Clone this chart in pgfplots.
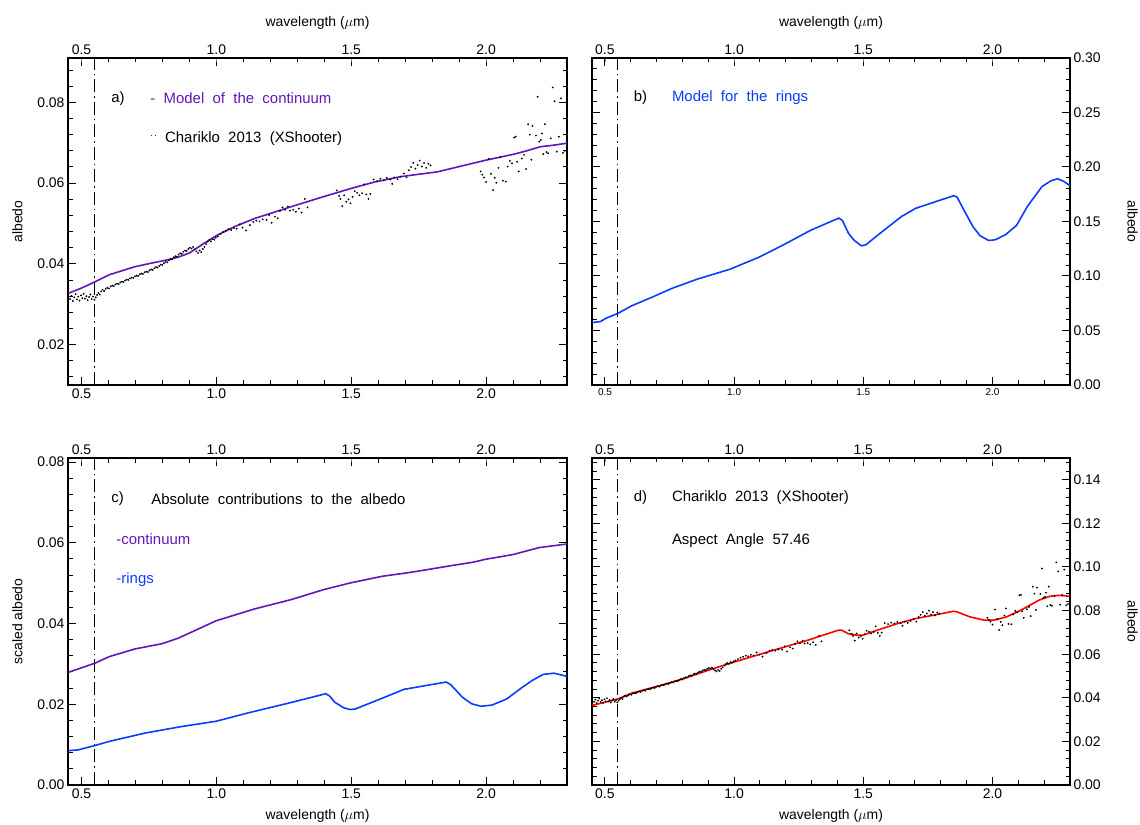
\documentclass[border=0pt]{standalone}
\usepackage{fontspec}
\setmainfont{Liberation Sans}
\newfontfamily\annfont{Liberation Sans}[WordSpace=2]
\usepackage{pgfplots}
\pgfplotsset{compat=1.18}

\definecolor{contpurple}{RGB}{100,20,190}
\definecolor{ringblue}{RGB}{10,60,255}
\definecolor{modelred}{RGB}{255,0,0}

\newcommand{\fsz}{\fontsize{14}{16}\selectfont}
\newcommand{\afsz}{\annfont\fontsize{15}{17}\selectfont}

\pgfplotsset{
  xfmt/.style={xticklabel style={/pgf/number format/fixed, /pgf/number format/fixed zerofill, /pgf/number format/precision=1}},
  yfmt/.style={yticklabel style={/pgf/number format/fixed, /pgf/number format/fixed zerofill, /pgf/number format/precision=2}},
  idl/.style={
    scale only axis, height=327bp, anchor=south west,
    xmin=0.45, xmax=2.30,
    xtick={0.5,1.0,1.5,2.0},
    minor xtick={0.6,0.7,0.8,0.9,1.1,1.2,1.3,1.4,1.6,1.7,1.8,1.9,2.1,2.2,2.3},
    axis line style={line width=1.1bp},
    scaled y ticks=false, scaled x ticks=false,
    xfmt, yfmt,
  },
  topx/.style={
    scale only axis, height=327bp, anchor=south west,
    xmin=0.45, xmax=2.30, ymin=0, ymax=1,
    axis x line*=top, hide y axis,
    xtick={0.5,1.0,1.5,2.0}, minor xtick={},
    axis line style={line width=1.1bp},
    scaled x ticks=false,
    /pgf/number format/assume math mode=true,
    xfmt,
    font=\fsz, xlabel shift=8bp,
  },
  vline/.style={black, line width=1bp, dash pattern=on 13bp off 4bp on 1.5bp off 4bp},
}
\tikzset{ann/.style={anchor=west, font=\afsz}}

% Chariklo 2013 XShooter spectrum (albedo), panel a
\pgfplotstableread{
x y
0.458 0.0313
0.463 0.0321
0.468 0.0308
0.473 0.0317
0.478 0.0325
0.483 0.0312
0.488 0.0319
0.493 0.0309
0.498 0.0322
0.503 0.0315
0.508 0.0326
0.513 0.0314
0.518 0.0320
0.523 0.0310
0.528 0.0318
0.533 0.0324
0.538 0.0313
0.543 0.0319
0.548 0.0311
0.553 0.0317
0.558 0.0323
0.563 0.0328
0.568 0.0324
0.573 0.0332
0.578 0.0336
0.584 0.0333
0.590 0.0338
0.596 0.0341
0.602 0.0339
0.608 0.0344
0.614 0.0346
0.620 0.0345
0.626 0.0349
0.632 0.0351
0.638 0.0350
0.644 0.0354
0.650 0.0356
0.656 0.0355
0.662 0.0359
0.668 0.0361
0.674 0.0360
0.680 0.0364
0.686 0.0366
0.692 0.0365
0.698 0.0369
0.704 0.0371
0.710 0.0370
0.716 0.0374
0.722 0.0376
0.728 0.0375
0.734 0.0379
0.740 0.0381
0.746 0.0380
0.752 0.0384
0.758 0.0386
0.764 0.0385
0.770 0.0389
0.776 0.0392
0.782 0.0391
0.788 0.0395
0.794 0.0398
0.800 0.0397
0.806 0.0402
0.812 0.0405
0.818 0.0404
0.824 0.0409
0.830 0.0412
0.836 0.0411
0.842 0.0416
0.848 0.0419
0.854 0.0418
0.860 0.0423
0.866 0.0426
0.872 0.0425
0.878 0.0430
0.884 0.0433
0.890 0.0432
0.896 0.0437
0.902 0.0440
0.908 0.0438
0.914 0.0442
0.920 0.0436
0.926 0.0431
0.932 0.0427
0.938 0.0433
0.944 0.0429
0.950 0.0437
0.956 0.0442
0.962 0.0449
0.968 0.0455
0.974 0.0459
0.980 0.0456
0.986 0.0462
0.992 0.0460
0.998 0.0465
1.005 0.0468
1.015 0.0474
1.025 0.0479
1.035 0.0482
1.045 0.0486
1.055 0.0484
1.065 0.0489
1.075 0.0487
1.087 0.0498
1.097 0.0490
1.110 0.0483
1.125 0.0496
1.137 0.0504
1.148 0.0507
1.160 0.0505
1.172 0.0510
1.186 0.0509
1.196 0.0521
1.205 0.0502
1.217 0.0517
1.227 0.0513
1.236 0.0531
1.245 0.0540
1.255 0.0534
1.265 0.0542
1.273 0.0532
1.285 0.0534
1.295 0.0529
1.306 0.0537
1.316 0.0527
1.328 0.0561
1.338 0.0540
1.446 0.0582
1.455 0.0568
1.460 0.0561
1.467 0.0543
1.474 0.0570
1.482 0.0554
1.490 0.0560
1.497 0.0550
1.505 0.0566
1.513 0.0580
1.522 0.0576
1.530 0.0570
1.540 0.0575
1.548 0.0597
1.556 0.0572
1.564 0.0561
1.571 0.0573
1.583 0.0609
1.596 0.0605
1.608 0.0611
1.620 0.0607
1.632 0.0613
1.645 0.0609
1.652 0.0598
1.660 0.0614
1.672 0.0610
1.683 0.0616
1.695 0.0624
1.705 0.0614
1.714 0.0632
1.722 0.0640
1.730 0.0650
1.738 0.0636
1.746 0.0645
1.754 0.0656
1.762 0.0641
1.770 0.0650
1.778 0.0638
1.786 0.0648
1.794 0.0644
1.980 0.0629
1.986 0.0621
1.992 0.0614
2.000 0.0603
2.010 0.0660
2.018 0.0623
2.026 0.0583
2.032 0.0613
2.038 0.0601
2.046 0.0638
2.052 0.0664
2.062 0.0606
2.073 0.0604
2.080 0.0641
2.088 0.0655
2.096 0.0649
2.104 0.0713
2.110 0.0715
2.115 0.0653
2.121 0.0629
2.133 0.0661
2.141 0.0670
2.148 0.0635
2.156 0.0746
2.162 0.0720
2.168 0.0658
2.172 0.0742
2.185 0.0718
2.191 0.0814
2.197 0.0703
2.203 0.0707
2.207 0.0723
2.212 0.0672
2.218 0.0746
2.224 0.0677
2.230 0.0674
2.240 0.0711
2.247 0.0837
2.254 0.0803
2.262 0.0678
2.270 0.0715
2.278 0.0810
2.285 0.0675
2.292 0.0680
2.298 0.0900
}\specA

% same spectrum at aspect angle 57.46, panel d
\pgfplotstableread{
x y
0.458 0.0382
0.463 0.0392
0.468 0.0376
0.473 0.0387
0.478 0.0397
0.483 0.0381
0.488 0.0389
0.493 0.0377
0.498 0.0393
0.503 0.0384
0.508 0.0398
0.513 0.0383
0.518 0.0390
0.523 0.0378
0.528 0.0388
0.533 0.0395
0.538 0.0382
0.543 0.0389
0.548 0.0379
0.553 0.0387
0.558 0.0394
0.563 0.0400
0.568 0.0395
0.573 0.0405
0.578 0.0410
0.584 0.0406
0.590 0.0412
0.596 0.0416
0.602 0.0414
0.608 0.0420
0.614 0.0422
0.620 0.0421
0.626 0.0426
0.632 0.0428
0.638 0.0427
0.644 0.0432
0.650 0.0434
0.656 0.0433
0.662 0.0438
0.668 0.0440
0.674 0.0439
0.680 0.0444
0.686 0.0447
0.692 0.0445
0.698 0.0450
0.704 0.0453
0.710 0.0451
0.716 0.0456
0.722 0.0459
0.728 0.0458
0.734 0.0462
0.740 0.0465
0.746 0.0464
0.752 0.0468
0.758 0.0471
0.764 0.0470
0.770 0.0475
0.776 0.0478
0.782 0.0477
0.788 0.0482
0.794 0.0486
0.800 0.0484
0.806 0.0490
0.812 0.0494
0.818 0.0493
0.824 0.0499
0.830 0.0503
0.836 0.0501
0.842 0.0508
0.848 0.0511
0.854 0.0510
0.860 0.0516
0.866 0.0520
0.872 0.0519
0.878 0.0525
0.884 0.0528
0.890 0.0527
0.896 0.0533
0.902 0.0537
0.908 0.0534
0.914 0.0539
0.920 0.0532
0.926 0.0526
0.932 0.0521
0.938 0.0528
0.944 0.0523
0.950 0.0533
0.956 0.0539
0.962 0.0548
0.968 0.0555
0.974 0.0560
0.980 0.0556
0.986 0.0564
0.992 0.0561
0.998 0.0567
1.005 0.0571
1.015 0.0578
1.025 0.0584
1.035 0.0588
1.045 0.0593
1.055 0.0590
1.065 0.0597
1.075 0.0594
1.087 0.0608
1.097 0.0598
1.110 0.0589
1.125 0.0605
1.137 0.0615
1.148 0.0619
1.160 0.0616
1.172 0.0622
1.186 0.0621
1.196 0.0636
1.205 0.0612
1.217 0.0631
1.227 0.0626
1.236 0.0648
1.245 0.0659
1.255 0.0651
1.265 0.0661
1.273 0.0649
1.285 0.0651
1.295 0.0645
1.306 0.0655
1.316 0.0643
1.328 0.0684
1.338 0.0659
1.446 0.0710
1.455 0.0693
1.460 0.0684
1.467 0.0662
1.474 0.0695
1.482 0.0676
1.490 0.0683
1.497 0.0671
1.505 0.0691
1.513 0.0708
1.522 0.0703
1.530 0.0695
1.540 0.0702
1.548 0.0728
1.556 0.0698
1.564 0.0684
1.571 0.0699
1.583 0.0743
1.596 0.0738
1.608 0.0745
1.620 0.0741
1.632 0.0748
1.645 0.0743
1.652 0.0730
1.660 0.0749
1.672 0.0744
1.683 0.0752
1.695 0.0761
1.705 0.0749
1.714 0.0771
1.722 0.0781
1.730 0.0793
1.738 0.0776
1.746 0.0787
1.754 0.0800
1.762 0.0782
1.770 0.0793
1.778 0.0778
1.786 0.0791
1.794 0.0786
1.980 0.0767
1.986 0.0758
1.992 0.0749
2.000 0.0736
2.010 0.0805
2.018 0.0760
2.026 0.0711
2.032 0.0748
2.038 0.0733
2.046 0.0778
2.052 0.0810
2.062 0.0739
2.073 0.0737
2.080 0.0782
2.088 0.0799
2.096 0.0792
2.104 0.0870
2.110 0.0872
2.115 0.0797
2.121 0.0767
2.133 0.0806
2.141 0.0817
2.148 0.0775
2.156 0.0910
2.162 0.0878
2.168 0.0803
2.172 0.0905
2.185 0.0876
2.191 0.0993
2.197 0.0858
2.203 0.0863
2.207 0.0882
2.212 0.0820
2.218 0.0910
2.224 0.0826
2.230 0.0822
2.240 0.0867
2.247 0.1021
2.254 0.0980
2.262 0.0827
2.270 0.0872
2.278 0.0988
2.285 0.0824
2.292 0.0830
2.298 0.1098
}\specD

\begin{document}
\begin{tikzpicture}
\path[use as bounding box] (0,0) rectangle (1140bp,825bp);

% ---------- a) ----------
\begin{axis}[idl, at={(68bp,440bp)}, width=499bp,
  font=\fsz, /pgf/number format/assume math mode=true,
  xmajorticks=true, ymajorticks=true, xminorticks=true, yminorticks=true,
  tick style={black, line width=1bp}, major tick length=8bp, minor tick length=4.5bp,
  ymin=0.01, ymax=0.091,
  ytick={0.02,0.04,0.06,0.08},
  minor ytick={0.012,0.016,0.024,0.028,0.032,0.036,0.044,0.048,0.052,0.056,0.064,0.068,0.072,0.076,0.084,0.088},
  ylabel={albedo}, ylabel shift=8bp]
\addplot[vline] coordinates {(0.55,0.01) (0.55,0.091)};
\addplot[only marks, mark=*, mark size=0.7bp, black] table {\specA};
\addplot[contpurple, line width=1.6bp] coordinates {
  (0.451,0.0327) (0.50,0.0340) (0.551,0.0356) (0.603,0.0373) (0.65,0.0383)
  (0.698,0.0393) (0.76,0.0402) (0.819,0.0410) (0.86,0.0417) (0.90,0.0427)
  (0.95,0.0449) (1.0,0.0470) (1.07,0.0493) (1.144,0.0513) (1.21,0.0527)
  (1.279,0.0542) (1.39,0.0565) (1.5,0.0587) (1.588,0.0603) (1.683,0.0616)
  (1.75,0.0622) (1.82,0.0628) (1.9,0.0641) (2.0,0.0657) (2.105,0.0672)
  (2.15,0.0680) (2.2,0.0690) (2.25,0.0694) (2.30,0.0699)};
\node[ann] at (rel axis cs:0.080,0.877) {a)};
\node[ann, text=contpurple] at (rel axis cs:0.158,0.877) {-\ Model of the continuum};
\node[ann] at (rel axis cs:0.158,0.754) {{\fontsize{9}{9}\selectfont\raisebox{1.2ex}{.\,.}}\ Chariklo 2013 (XShooter)};
\end{axis}
\begin{axis}[topx, at={(68bp,440bp)}, width=499bp, xlabel={wavelength ($\mu$m)}]
\end{axis}

% ---------- b) ----------
\begin{axis}[idl, at={(592bp,440bp)}, width=478bp,
  font=\fsz, /pgf/number format/assume math mode=true,
  xmajorticks=true, ymajorticks=true, xminorticks=true, yminorticks=true,
  tick style={black, line width=1bp}, major tick length=8bp, minor tick length=4.5bp,
  ymin=0, ymax=0.30,
  ytick={0,0.05,0.10,0.15,0.20,0.25,0.30},
  minor ytick={0.01,0.02,0.03,0.04,0.06,0.07,0.08,0.09,0.11,0.12,0.13,0.14,0.16,0.17,0.18,0.19,0.21,0.22,0.23,0.24,0.26,0.27,0.28,0.29},
  yticklabel pos=right, ylabel={albedo}, ylabel style={rotate=180}, ylabel shift=20bp,
  xticklabel style={font=\fontsize{10}{12}\selectfont}]
\addplot[vline] coordinates {(0.55,0) (0.55,0.30)};
\addplot[ringblue, line width=1.6bp] coordinates {
  (0.451,0.0573) (0.483,0.0582) (0.504,0.0612) (0.551,0.0658) (0.603,0.0726)
  (0.688,0.0811) (0.758,0.0885) (0.857,0.0971) (0.984,0.1062) (1.097,0.1173)
  (1.196,0.1292) (1.295,0.1418) (1.405,0.1531) (1.419,0.1510) (1.443,0.1390)
  (1.465,0.1326) (1.493,0.1277) (1.51,0.1286) (1.564,0.1390) (1.648,0.1546)
  (1.702,0.1620) (1.79,0.1690) (1.85,0.1736) (1.863,0.1724) (1.889,0.1607)
  (1.924,0.1454) (1.952,0.1369) (1.985,0.1326) (2.01,0.1332) (2.05,0.1378)
  (2.093,0.1464) (2.135,0.1638) (2.192,0.1822) (2.227,0.1874) (2.252,0.1892)
  (2.276,0.1868) (2.30,0.1828)};
\node[ann] at (rel axis cs:0.080,0.878) {b)};
\node[ann, text=ringblue] at (rel axis cs:0.160,0.878) {Model for the rings};
\end{axis}
\begin{axis}[topx, at={(592bp,440bp)}, width=478bp, xlabel={wavelength ($\mu$m)}]
\end{axis}

% ---------- c) ----------
\begin{axis}[idl, at={(68bp,40bp)}, width=499bp,
  font=\fsz, /pgf/number format/assume math mode=true,
  xmajorticks=true, ymajorticks=true, xminorticks=true, yminorticks=true,
  tick style={black, line width=1bp}, major tick length=8bp, minor tick length=4.5bp,
  ymin=0, ymax=0.081,
  ytick={0,0.02,0.04,0.06,0.08},
  minor ytick={0.004,0.008,0.012,0.016,0.024,0.028,0.032,0.036,0.044,0.048,0.052,0.056,0.064,0.068,0.072,0.076},
  ylabel={scaled albedo}, ylabel shift=8bp,
  xlabel={wavelength ($\mu$m)}, xlabel shift=4bp]
\addplot[vline] coordinates {(0.55,0) (0.55,0.081)};
\addplot[contpurple, line width=1.6bp] coordinates {
  (0.451,0.0279) (0.551,0.0302) (0.603,0.0318) (0.698,0.0337) (0.799,0.0350)
  (0.86,0.0364) (1.0,0.0407) (1.141,0.0436) (1.276,0.0459) (1.398,0.0484)
  (1.5,0.0501) (1.615,0.0517) (1.723,0.0527) (1.858,0.0542) (1.953,0.0552)
  (1.997,0.0559) (2.101,0.0571) (2.196,0.0588) (2.30,0.0597)};
\addplot[ringblue, line width=1.6bp] coordinates {
  (0.451,0.0085) (0.488,0.0087) (0.551,0.0098) (0.603,0.0108) (0.738,0.0129)
  (0.873,0.0145) (1.0,0.0158) (1.114,0.0178) (1.263,0.0202) (1.405,0.0226)
  (1.419,0.0221) (1.439,0.0205) (1.473,0.0191) (1.496,0.0187) (1.514,0.0188)
  (1.615,0.0215) (1.696,0.0237) (1.852,0.0255) (1.868,0.0249) (1.913,0.0217)
  (1.947,0.0201) (1.981,0.0195) (2.022,0.0198) (2.076,0.0213) (2.13,0.0240)
  (2.171,0.0259) (2.212,0.0274) (2.252,0.0277) (2.30,0.0269)};
\node[ann] at (rel axis cs:0.080,0.875) {c)};
\node[ann] at (rel axis cs:0.160,0.875) {Absolute contributions to the albedo};
\node[ann, text=contpurple] at (rel axis cs:0.090,0.752) {-continuum};
\node[ann, text=ringblue] at (rel axis cs:0.090,0.627) {-rings};
\end{axis}
\begin{axis}[topx, at={(68bp,40bp)}, width=499bp]
\end{axis}

% ---------- d) ----------
\begin{axis}[idl, at={(592bp,40bp)}, width=478bp,
  font=\fsz, /pgf/number format/assume math mode=true,
  xmajorticks=true, ymajorticks=true, xminorticks=true, yminorticks=true,
  tick style={black, line width=1bp}, major tick length=8bp, minor tick length=4.5bp,
  ymin=0, ymax=0.15,
  ytick={0,0.02,0.04,0.06,0.08,0.10,0.12,0.14},
  minor ytick={0.004,0.008,0.012,0.016,0.024,0.028,0.032,0.036,0.044,0.048,0.052,0.056,0.064,0.068,0.072,0.076,0.084,0.088,0.092,0.096,0.104,0.108,0.112,0.116,0.124,0.128,0.132,0.136,0.144,0.148},
  yticklabel pos=right, ylabel={albedo}, ylabel style={rotate=180}, ylabel shift=20bp,
  xlabel={wavelength ($\mu$m)}, xlabel shift=4bp]
\addplot[vline] coordinates {(0.55,0) (0.55,0.15)};
\addplot[only marks, mark=*, mark size=0.7bp, black] table {\specD};
\addplot[modelred, line width=1.6bp] coordinates {
  (0.451,0.0365) (0.551,0.0395) (0.603,0.0421) (0.715,0.0457) (0.80,0.0486)
  (0.899,0.0526) (1.0,0.0564) (1.152,0.0618) (1.293,0.0667) (1.403,0.0710)
  (1.417,0.0710) (1.441,0.0694) (1.476,0.0687) (1.497,0.0687) (1.546,0.0707)
  (1.631,0.0740) (1.701,0.0763) (1.772,0.0779) (1.849,0.0797) (1.863,0.0794)
  (1.913,0.0771) (1.969,0.0756) (2.004,0.0756) (2.054,0.0771) (2.11,0.0802)
  (2.18,0.0848) (2.223,0.0866) (2.258,0.0870) (2.296,0.0866)};
\node[ann] at (rel axis cs:0.080,0.879) {d)};
\node[ann] at (rel axis cs:0.160,0.879) {Chariklo 2013 (XShooter)};
\node[ann] at (rel axis cs:0.160,0.746) {Aspect Angle 57.46};
\end{axis}
\begin{axis}[topx, at={(592bp,40bp)}, width=478bp]
\end{axis}

\end{tikzpicture}
\end{document}
